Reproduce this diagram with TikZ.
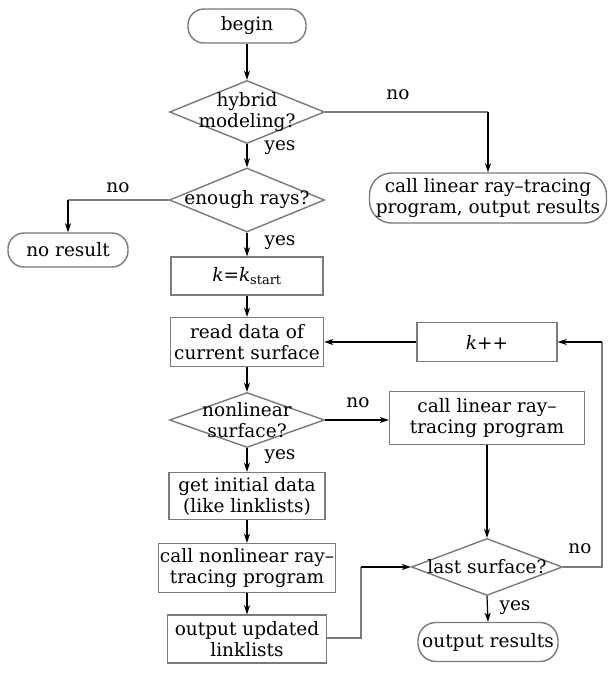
\documentclass[tikz,border=0pt]{standalone}
\usepackage{fontspec}
\setmainfont{DejaVu Serif}
\usetikzlibrary{shapes.geometric,arrows.meta}
\definecolor{bordergray}{HTML}{7A7A7A}
\begin{document}
\begin{tikzpicture}[x=1pt,y=-1pt,
  every node/.style={font=\fontsize{18.5}{21}\selectfont, text=black},
  box/.style={draw=bordergray, line width=1.4pt, rectangle, inner sep=0pt, align=center},
  term/.style={draw=bordergray, line width=1.4pt, rectangle, rounded corners=16pt, inner sep=0pt, align=center},
  dia/.style={draw=bordergray, line width=1.4pt, diamond, inner sep=0pt},
  arr/.style={draw=black, line width=1.2pt, -{Stealth[length=9pt,width=6pt,inset=2.5pt]}},
  gline/.style={draw=bordergray, line width=1.4pt},
  lab/.style={inner sep=0pt}
]
\useasboundingbox (0,0) rectangle (608,677);
\fill[white] (0,0) rectangle (608,677);

% nodes
\node[term, minimum width=118pt, minimum height=34pt] (begin) at (247,26) {begin};
\node[dia, minimum width=155pt, minimum height=63pt,
  label={[align=center, font=\fontsize{18.5}{21}\selectfont]center:hybrid\\modeling?}] (hyb) at (247,112) {};
\node[term, rounded corners=22pt, minimum width=237pt, minimum height=50pt] (callout) at (488,198) {call linear ray–tracing\\program, output results};
\node[dia, minimum width=155pt, minimum height=64pt,
  label={[font=\fontsize{18.5}{21}\selectfont]center:enough rays?}] (enough) at (247,200) {};
\node[term, minimum width=120pt, minimum height=34pt] (noresult) at (68,250) {no result};
\node[box, minimum width=152pt, minimum height=38pt] (kbox) at (247,276) {\textit{k}=\textit{k}\textsubscript{start}};
\node[box, minimum width=153pt, minimum height=49pt] (read) at (247,342) {read data of\\current surface};
\node[box, minimum width=140pt, minimum height=39pt] (kpp) at (487,342) {\textit{k}++};
\node[dia, minimum width=155pt, minimum height=55pt,
  label={[align=center, font=\fontsize{18.5}{21}\selectfont]center:nonlinear\\surface?}] (nonlin) at (247,420) {};
\node[box, minimum width=195pt, minimum height=53pt] (calllin) at (487,418) {call linear ray–\\tracing program};
\node[box, minimum width=156pt, minimum height=47pt] (getinit) at (247,496) {get initial data\\(like linklists)};
\node[box, minimum width=177pt, minimum height=49pt] (callnon) at (247,568) {call nonlinear ray–\\tracing program};
\node[box, minimum width=159pt, minimum height=48pt] (outupd) at (247,639) {output updated\\linklists};
\node[dia, minimum width=151pt, minimum height=57pt,
  label={[font=\fontsize{18.5}{21}\selectfont]center:last surface?}] (last) at (487,567) {};
\node[term, rounded corners=18pt, minimum width=140pt, minimum height=39pt] (outres) at (488,642) {output results};

% corner coordinates
\coordinate (c1) at (callout.north |- hyb.east);
\coordinate (c2) at (noresult.north |- enough.west);
\coordinate (c3) at (361,638);
\coordinate (c4) at (361,567);
\coordinate (c5) at (602,567);
\coordinate (c6) at (602,342);

% connectors
\draw[arr] (begin) -- (hyb.north);
\draw[gline] (hyb.east) -- (c1);
\draw[arr] (c1) -- (callout.north);
\draw[arr] (hyb.south) -- (enough.north);
\draw[gline] (enough.west) -- (c2);
\draw[arr] (c2) -- (noresult.north);
\draw[arr] (enough.south) -- (kbox.north);
\draw[arr] (kbox) -- (read);
\draw[arr] (read.south) -- (nonlin.north);
\draw[arr] (nonlin.east) -- (calllin.west |- nonlin.east);
\draw[arr] (nonlin.south) -- (getinit.north);
\draw[arr] (getinit) -- (callnon);
\draw[arr] (callnon) -- (outupd);
\draw[gline] (outupd.east |- c3) -- (c3) -- (c4);
\draw[arr] (c4) -- (last.west);
\draw[arr] (calllin.south) -- (last.north);
\draw[gline] (last.east) -- (c5) -- (c6);
\draw[arr] (c6) -- (kpp.east);
\draw[arr] (kpp.west) -- (read.east);
\draw[arr] (last.south) -- (outres.north);

% labels
\node[lab] (l1) at (398,95) {no};
\node[lab] (l2) at (280,148) {yes};
\node[lab] (l3) at (118,188) {no};
\node[lab] (l4) at (280,243) {yes};
\node[lab] (l5) at (358,403) {no};
\node[lab] (l6) at (280,457) {yes};
\node[lab] (l7) at (580,549) {no};
\node[lab] (l8) at (515,608) {yes};
\end{tikzpicture}
\end{document}
